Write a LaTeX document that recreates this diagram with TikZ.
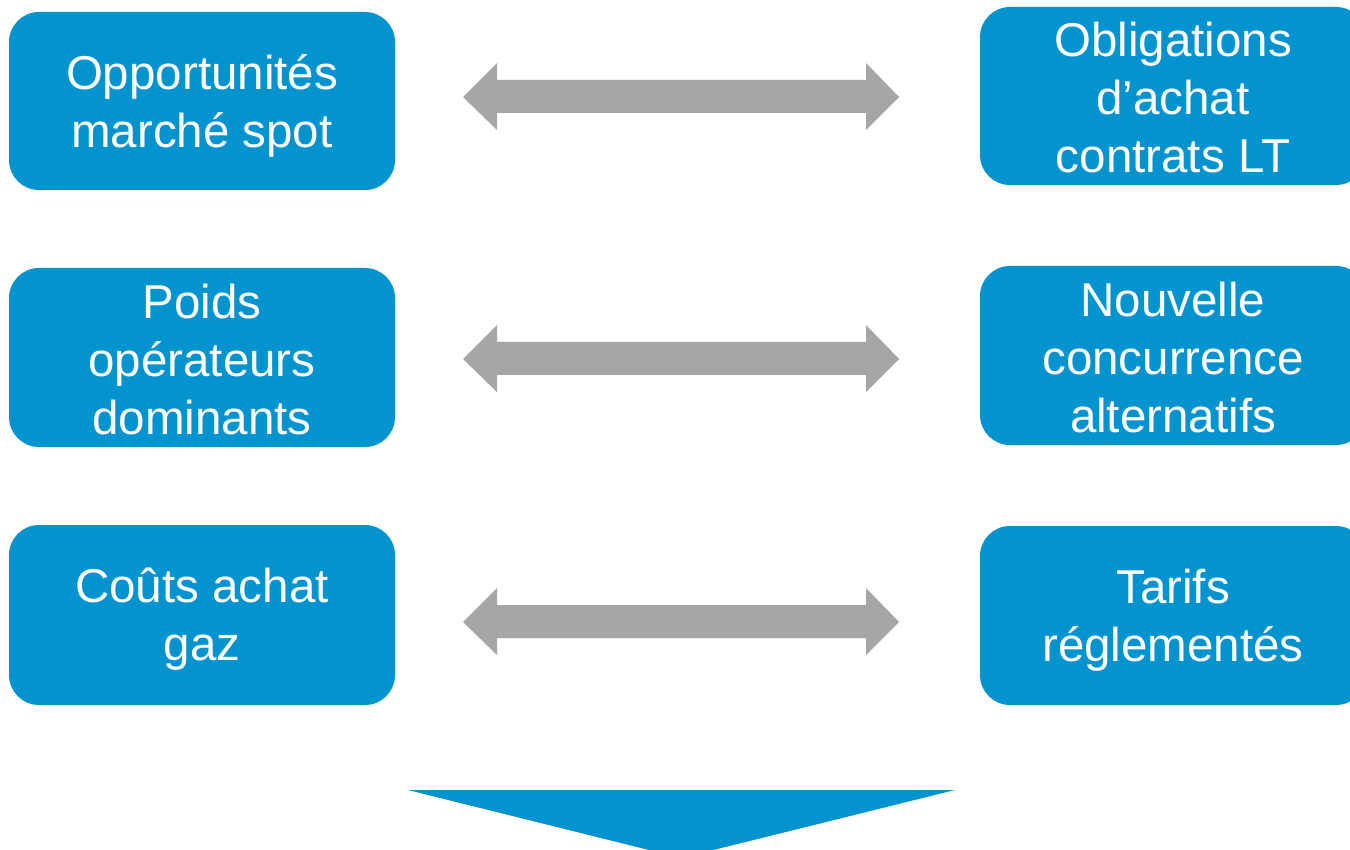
\documentclass[tikz,border=0pt]{standalone}
\usepackage{fontspec}
\setmainfont{Liberation Sans}
\definecolor{boxblue}{HTML}{0394D0}
\definecolor{arrgray}{HTML}{A6A6A6}
\begin{document}
\begin{tikzpicture}[x=1pt,y=-1pt,
  card/.style={fill=boxblue, draw=none, rounded corners=30pt, minimum width=386pt,
    inner sep=0pt},
  cardtext/.style={text=white, align=center, inner sep=0pt,
    font=\fontsize{47.5}{58}\selectfont},
  dblarrow/.style={fill=arrgray, draw=none},
  downarrow/.style={fill=boxblue, draw=none}]
\clip (0,0) rectangle (1350,850);
\fill[white] (0,0) rectangle (1350,850);
% left column
\node[card, minimum height=178pt] (L1) at (202,101) {};
\node[cardtext] (L1t) at ([yshift=-4.5pt]L1.center) {Opportunités\\marché spot};
\node[card, minimum height=179pt] (L2) at (202,357.5) {};
\node[cardtext] (L2t) at ([yshift=-2pt]L2.center) {Poids\\opérateurs\\dominants};
\node[card, minimum height=180pt] (L3) at (202,615) {};
\node[cardtext] (L3t) at ([yshift=-4.5pt]L3.center) {Coûts achat\\gaz};
% right column
\node[card, minimum height=178pt] (R1) at (1173,96) {};
\node[cardtext] (R1t) at ([yshift=-2pt]R1.center) {Obligations\\d’achat\\contrats LT};
\node[card, minimum height=179pt] (R2) at (1173,355.5) {};
\node[cardtext] (R2t) at ([yshift=-2pt]R2.center) {Nouvelle\\concurrence\\alternatifs};
\node[card, minimum height=179pt] (R3) at (1173,615.5) {};
\node[cardtext] (R3t) at ([yshift=-4.5pt]R3.center) {Tarifs\\réglementés};
% double arrows
\foreach \y in {97,359,622}{
  \fill[dblarrow] (463,\y) -- (497,\y-34) -- (497,\y-17) -- (866,\y-17) -- (866,\y-34)
    -- (899,\y) -- (866,\y+33) -- (866,\y+16) -- (497,\y+16) -- (497,\y+33) -- cycle;
}
% bottom arrow
\fill[downarrow] (408,790) -- (955,790) -- (681,858) -- cycle;
\end{tikzpicture}
\end{document}
